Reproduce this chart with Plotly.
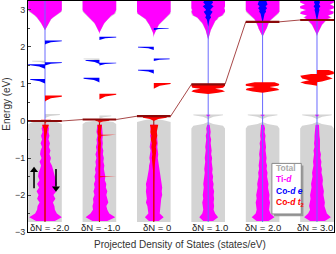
import plotly.graph_objects as go

# ---------------- data ----------------
dN_labels = ["δN = -2.0", "δN = -1.0", "δN = 0", "δN = 1.0", "δN = 2.0", "δN = 3.0"]
E_fermi = [0.00, 0.04, 0.13, 0.99, 2.68, 2.73]   # eV

# Ti-d conduction band, energies (eV) and DOS (states/eV), up = left, dn = right
E_cond = [3.30, 3.20, 3.15, 3.10, 3.05, 3.00, 2.95, 2.90, 2.85, 2.80, 2.75,
          2.70, 2.65, 2.60, 2.55, 2.50, 2.45, 2.40, 2.35, 2.30, 2.25, 2.20]
ti_cond_up = [
    [1.7, 1.7, 1.7, 1.7, 1.7, 1.7, 1.5, 1.2, 1.0, 0.8, 0.65, 0.5, 0.4, 0.3, 0.2, 0.05, 0, 0, 0, 0, 0, 0],
    [1.7, 1.7, 1.7, 1.7, 1.7, 1.7, 1.6, 1.4, 1.2, 1.0, 0.8, 0.65, 0.5, 0.4, 0.3, 0.2, 0.1, 0.03, 0, 0, 0, 0],
    [1.7, 1.7, 1.7, 1.7, 1.7, 1.7, 1.7, 1.6, 1.3, 1.0, 0.8, 0.7, 0.55, 0.45, 0.35, 0.25, 0.15, 0.1, 0.05, 0, 0, 0],
    [1.7, 1.7, 1.7, 1.7, 1.7, 1.6, 1.7, 1.6, 1.5, 1.1, 0.9, 0.8, 0.6, 0.5, 0.4, 0.3, 0.25, 0.2, 0.15, 0.1, 0.05, 0],
    [1.7, 1.7, 1.7, 1.7, 1.7, 1.7, 1.6, 1.4, 1.2, 0.9, 0.8, 0.7, 0.6, 0.5, 0.45, 0.4, 0.3, 0.2, 0.1, 0.03, 0, 0],
    [1.7, 1.7, 1.2, 1.7, 1.7, 1.1, 1.6, 1.7, 1.0, 1.3, 1.0, 0.8, 0.6, 0.5, 0.4, 0.3, 0.2, 0.1, 0.05, 0, 0, 0],
]
ti_cond_dn = [
    [1.7, 1.7, 1.7, 1.7, 1.7, 1.7, 1.6, 1.3, 1.0, 0.8, 0.6, 0.5, 0.4, 0.3, 0.2, 0.05, 0, 0, 0, 0, 0, 0],
    [1.7, 1.7, 1.7, 1.7, 1.7, 1.7, 1.6, 1.5, 1.2, 1.0, 0.8, 0.6, 0.5, 0.4, 0.3, 0.2, 0.1, 0.03, 0, 0, 0, 0],
    [1.7, 1.7, 1.7, 1.7, 1.7, 1.7, 1.7, 1.6, 1.4, 1.2, 1.0, 0.9, 0.7, 0.5, 0.4, 0.3, 0.2, 0.1, 0.05, 0, 0, 0],
    [1.7, 1.7, 1.7, 1.7, 1.6, 1.7, 1.7, 1.5, 1.4, 1.0, 0.9, 0.7, 0.6, 0.5, 0.4, 0.3, 0.25, 0.2, 0.15, 0.1, 0.05, 0],
    [1.7, 1.7, 1.7, 1.7, 1.7, 1.7, 1.7, 1.5, 1.3, 1.0, 0.8, 0.7, 0.6, 0.55, 0.45, 0.4, 0.3, 0.2, 0.1, 0.03, 0, 0],
    [1.7, 1.7, 1.3, 1.7, 1.7, 1.2, 1.7, 1.6, 1.1, 1.4, 1.0, 0.8, 0.6, 0.5, 0.4, 0.3, 0.2, 0.1, 0.05, 0, 0, 0],
]
# Co-d e in the conduction band (panels 4-6 only)
co_e_cond = [
    None, None, None,
    [0.3, 0.5, 0.3, 0.55, 0.35, 0.2, 0.45, 0.3, 0.2, 0.3, 0.15, 0.1, 0.05, 0, 0, 0, 0, 0, 0, 0, 0, 0],
    [0.3, 0.4, 0.5, 0.3, 0.45, 0.3, 0.35, 0.2, 0.15, 0.1, 0.05, 0, 0, 0, 0, 0, 0, 0, 0, 0, 0, 0],
    [0.2, 0.3, 0.2, 0.35, 0.2, 0.25, 0.2, 0.15, 0.1, 0.05, 0, 0, 0, 0, 0, 0, 0, 0, 0, 0, 0, 0],
]

# Valence band
E_val = [-0.1, -0.2, -0.3, -0.4, -0.5, -0.6, -0.7, -0.8, -0.9, -1.0, -1.1, -1.2, -1.3, -1.4,
         -1.5, -1.6, -1.7, -1.8, -1.9, -2.0, -2.1, -2.2, -2.3, -2.4, -2.5, -2.6, -2.7]
ti_val_up = [
    [0.2, 0.35, 0.25, 0.4, 0.3, 0.45, 0.3, 0.45, 0.5, 0.35, 0.55, 0.4, 0.5, 0.65, 0.7, 0.55, 0.8, 0.6, 0.85, 0.65, 0.8, 0.55, 0.75, 0.8, 1.0, 1.6, 0.9],
    [0.2, 0.25, 0.3, 0.2, 0.3, 0.25, 0.35, 0.28, 0.4, 0.3, 0.4, 0.35, 0.45, 0.38, 0.5, 0.42, 0.55, 0.48, 0.6, 0.5, 0.65, 0.6, 0.7, 0.65, 0.9, 1.4, 0.7],
    [0.3, 0.35, 0.28, 0.38, 0.3, 0.35, 0.42, 0.33, 0.42, 0.45, 0.38, 0.48, 0.5, 0.55, 0.65, 0.7, 0.8, 0.75, 0.8, 0.75, 0.7, 0.8, 0.65, 0.6, 0.55, 0.9, 0.5],
    [0.1, 0.2, 0.15, 0.25, 0.2, 0.25, 0.3, 0.25, 0.3, 0.35, 0.3, 0.35, 0.4, 0.35, 0.4, 0.45, 0.5, 0.45, 0.5, 0.55, 0.5, 0.6, 0.55, 0.5, 0.6, 0.9, 0.5],
    [0.15, 0.2, 0.2, 0.25, 0.2, 0.3, 0.25, 0.3, 0.35, 0.3, 0.35, 0.4, 0.35, 0.45, 0.4, 0.5, 0.55, 0.5, 0.6, 0.65, 0.6, 0.7, 0.65, 0.6, 0.7, 1.1, 0.6],
    [0.15, 0.2, 0.2, 0.25, 0.25, 0.3, 0.25, 0.35, 0.3, 0.35, 0.4, 0.35, 0.45, 0.5, 0.45, 0.55, 0.6, 0.55, 0.65, 0.7, 0.65, 0.75, 0.8, 0.7, 0.9, 1.3, 0.7],
]
ti_val_dn = [
    [0.3, 0.4, 0.35, 0.45, 0.35, 0.5, 0.4, 0.55, 0.45, 0.6, 0.5, 0.7, 0.8, 0.9, 1.0, 1.15, 1.2, 0.95, 1.15, 0.85, 1.05, 0.8, 0.95, 1.0, 1.2, 1.7, 1.0],
    [0.25, 0.3, 0.28, 0.35, 0.3, 0.35, 0.3, 0.4, 0.35, 0.45, 0.4, 0.5, 0.45, 0.55, 0.6, 0.55, 0.7, 0.65, 0.8, 0.7, 0.8, 0.9, 0.7, 0.8, 1.0, 1.6, 0.8],
    [0.3, 0.3, 0.35, 0.3, 0.35, 0.4, 0.35, 0.4, 0.45, 0.4, 0.45, 0.5, 0.55, 0.6, 0.65, 0.75, 0.8, 0.85, 0.8, 0.85, 0.75, 0.7, 0.7, 0.65, 0.6, 1.0, 0.5],
    [0.15, 0.2, 0.25, 0.2, 0.3, 0.25, 0.3, 0.35, 0.3, 0.4, 0.35, 0.4, 0.45, 0.4, 0.5, 0.45, 0.55, 0.5, 0.6, 0.55, 0.6, 0.55, 0.6, 0.55, 0.7, 1.0, 0.5],
    [0.15, 0.25, 0.2, 0.3, 0.25, 0.3, 0.35, 0.3, 0.35, 0.4, 0.35, 0.45, 0.4, 0.5, 0.45, 0.55, 0.6, 0.55, 0.65, 0.7, 0.65, 0.75, 0.7, 0.65, 0.8, 1.2, 0.6],
    [0.2, 0.2, 0.25, 0.25, 0.3, 0.3, 0.35, 0.3, 0.4, 0.35, 0.45, 0.4, 0.5, 0.45, 0.55, 0.6, 0.55, 0.65, 0.7, 0.65, 0.75, 0.8, 0.75, 0.85, 1.0, 1.4, 0.8],
]
# Co-d t2 in the valence band (panels 1-3)
t2_val_up = [
    [0.3, 0.15, 0.1, 0.08, 0.06, 0.06, 0.05, 0.06, 0.05, 0.05, 0.06, 0.05, 0.05, 0.06, 0.05, 0.05, 0.06, 0.05, 0.05, 0.06, 0.05, 0.05, 0.06, 0.05, 0.05, 0.1, 0.05],
    [0.2, 0.15, 0.2, 0.12, 0.15, 0.1, 0.15, 0.1, 0.12, 0.1, 0.1, 0.12, 0.1, 0.1, 0.08, 0.06, 0.05, 0.05, 0.05, 0.05, 0.05, 0.05, 0.05, 0.05, 0.05, 0.08, 0.05],
    [0.4, 0.3, 0.35, 0.25, 0.3, 0.2, 0.25, 0.2, 0.15, 0.2, 0.15, 0.1, 0.08, 0.06, 0.05, 0.05, 0.05, 0.05, 0.05, 0.05, 0.05, 0.05, 0.05, 0.05, 0.05, 0.08, 0.05],
]
t2_val_dn = [
    [0.4, 0.25, 0.2, 0.12, 0.08, 0.06, 0.06, 0.05, 0.06, 0.05, 0.05, 0.06, 0.05, 0.05, 0.06, 0.05, 0.05, 0.06, 0.05, 0.05, 0.06, 0.05, 0.05, 0.06, 0.05, 0.1, 0.05],
    [0.25, 0.2, 0.15, 0.2, 0.12, 0.15, 0.1, 0.12, 0.1, 0.12, 0.1, 0.1, 0.08, 0.1, 0.08, 0.06, 0.05, 0.05, 0.05, 0.05, 0.05, 0.05, 0.05, 0.05, 0.05, 0.08, 0.05],
    [0.45, 0.35, 0.3, 0.35, 0.25, 0.3, 0.2, 0.25, 0.2, 0.15, 0.15, 0.1, 0.08, 0.06, 0.05, 0.05, 0.05, 0.05, 0.05, 0.05, 0.05, 0.05, 0.05, 0.05, 0.05, 0.08, 0.05],
]

# Total DOS in the valence band (saturated)
E_tot_val = [0.06, 0.02, -0.03, -0.08, -0.13, -0.2, -2.65, -2.73]
tot_val = [
    [0.0, 0.0, 1.2, 1.7, 1.7, 1.7, 1.7, 1.7],
    [0.0, 0.0, 1.4, 1.7, 1.7, 1.7, 1.7, 1.7],
    [0.0, 1.0, 1.7, 1.7, 1.7, 1.7, 1.7, 1.7],
    [0.0, 0.0, 0.0, 0.5, 1.5, 1.7, 1.7, 1.7],
    [0.0, 0.0, 0.0, 0.5, 1.5, 1.7, 1.7, 1.7],
    [0.0, 0.0, 0.0, 0.5, 1.5, 1.7, 1.7, 1.7],
]

# Co-d t2 bands of panels 4-6: energies and DOS per spin
t2_blk_E_up = [None, None, None,
               [0.98, 0.95, 0.90, 0.87, 0.84, 0.80, 0.76, 0.73],
               [1.05, 1.00, 0.95, 0.92, 0.88, 0.84, 0.80, 0.76],
               [1.27, 1.22, 1.15, 1.10, 1.05, 1.00, 0.98, 0.95]]
t2_blk_up = [None, None, None,
             [1.7, 1.7, 1.6, 0.8, 1.5, 1.7, 1.2, 0.0],
             [0.8, 1.7, 1.7, 0.8, 1.6, 1.7, 1.0, 0.0],
             [0.6, 1.7, 1.5, 0.8, 1.7, 1.2, 0.6, 0.0]]
t2_blk_E_dn = [None, None, None,
               [0.98, 0.95, 0.90, 0.87, 0.84, 0.80, 0.76, 0.73],
               [1.05, 1.00, 0.95, 0.92, 0.88, 0.84, 0.80, 0.76],
               [1.38, 1.33, 1.27, 1.22, 1.15, 1.10, 1.07, 1.05]]
t2_blk_dn = [None, None, None,
             [1.7, 1.7, 1.5, 0.7, 1.4, 1.7, 1.0, 0.0],
             [1.2, 1.7, 1.6, 0.7, 1.5, 1.7, 0.8, 0.0],
             [1.2, 1.7, 1.7, 0.9, 1.6, 1.0, 0.5, 0.0]]

# Sharp peaks: panel index, peak energy (eV), spin (-1 up / +1 down), height, tail depth (eV)
tot_peaks = [(0, 1.62, -1, 1.3, 0.06), (0, 0.18, 1, 1.5, 0.10), (1, 1.68, -1, 1.6, 0.06),
             (1, 0.14, 1, 1.2, 0.08), (3, 0.17, -1, 1.5, 0.12), (3, 0.17, 1, 1.5, 0.12),
             (4, 0.17, -1, 1.5, 0.12), (4, 0.17, 1, 1.5, 0.12), (5, 0.17, -1, 1.5, 0.12),
             (5, 0.17, 1, 1.5, 0.12)]
co_e_peaks = [(0, 2.17, 1, 1.7, 0.10), (0, 1.58, 1, 1.7, 0.08), (0, 1.53, -1, 1.7, 0.12),
              (0, 1.13, -1, 1.5, 0.12), (1, 2.27, 1, 1.7, 0.08), (1, 1.64, -1, 1.4, 0.10),
              (1, 1.57, 1, 1.7, 0.07), (1, 1.16, -1, 1.6, 0.12), (2, 2.51, 1, 1.5, 0.06),
              (2, 2.00, -1, 1.6, 0.08), (2, 1.68, 1, 1.6, 0.06), (2, 1.38, -1, 1.6, 0.10)]
co_t2_peaks = [(0, 0.68, 1, 1.7, 0.15), (1, 0.73, 1, 1.7, 0.15), (2, 1.02, 1, 1.7, 0.15),
               (0, 0.03, -1, 0.4, 0.08), (0, 0.03, 1, 0.6, 0.10), (1, 0.02, 1, 1.0, 0.07),
               (1, 0.02, -1, 0.4, 0.07), (2, 0.10, -1, 1.1, 0.10), (2, 0.10, 1, 1.3, 0.10),
               (1, -0.38, 1, 1.7, 0.02), (1, -1.50, 1, 1.7, 0.02)]
ti_small_peaks = [(3, 0.16, -1, 0.2, 0.05), (3, 0.16, 1, 0.2, 0.05), (4, 0.16, -1, 0.2, 0.05),
                  (4, 0.16, 1, 0.2, 0.05), (5, 0.16, -1, 0.2, 0.05), (5, 0.16, 1, 0.2, 0.05)]

# ---------------- geometry / style ----------------
SPACING = 5.5
HALF = 1.7
N = len(dN_labels)
centers = [i * SPACING for i in range(N)]
E_BOTTOM = -2.73
C_TOT, C_TI, C_E, C_T2 = "#d4d4d4", "#ff00ff", "#0000ff", "#ff0000"


def side_poly(xc, E, w, s):
    xs = [xc + s * v for v in w] + [xc] * len(E)
    ys = list(E) + list(reversed(E))
    return xs, ys


def peak_poly(xc, e0, s, h, d):
    xs = [xc, xc + s * h, xc + s * h, xc + s * 0.35 * h, xc + s * 0.08 * h, xc]
    ys = [e0 + 0.006, e0 + 0.006, e0 - 0.15 * d, e0 - 0.45 * d, e0 - 0.85 * d, e0 - d]
    return xs, ys


class Layer:
    def __init__(self):
        self.x, self.y = [], []

    def add(self, xs, ys):
        self.x += list(xs) + [None]
        self.y += list(ys) + [None]


gray, mag, blue, red = Layer(), Layer(), Layer(), Layer()

for i, xc in enumerate(centers):
    for s in (-1, 1):
        gray.add(*side_poly(xc, E_tot_val, tot_val[i], s))
        gray.add(*side_poly(xc, E_cond, [min(HALF, v * 1.08) for v in (ti_cond_up[i] if s < 0 else ti_cond_dn[i])], s))
        mag.add(*side_poly(xc, E_cond, ti_cond_up[i] if s < 0 else ti_cond_dn[i], s))
        mag.add(*side_poly(xc, E_val, ti_val_up[i] if s < 0 else ti_val_dn[i], s))
        if co_e_cond[i] is not None:
            blue.add(*side_poly(xc, E_cond, co_e_cond[i], s))
        if i < 3:
            red.add(*side_poly(xc, E_val, t2_val_up[i] if s < 0 else t2_val_dn[i], s))
        if t2_blk_up[i] is not None:
            if s < 0:
                red.add(*side_poly(xc, t2_blk_E_up[i], t2_blk_up[i], s))
            else:
                red.add(*side_poly(xc, t2_blk_E_dn[i], t2_blk_dn[i], s))

for lay, peaks in ((gray, tot_peaks), (blue, co_e_peaks), (red, co_t2_peaks), (mag, ti_small_peaks)):
    for (p, e0, s, h, d) in peaks:
        lay.add(*peak_poly(centers[p], e0, s, h, d))

fig = go.Figure()


def add_fill(lay, color):
    fig.add_trace(go.Scatter(x=lay.x, y=lay.y, mode="lines", fill="toself", fillcolor=color,
                             line=dict(width=0, color=color), hoverinfo="skip", showlegend=False))


add_fill(gray, C_TOT)
add_fill(mag, C_TI)

# zero-DOS centre lines
lx, ly = [], []
for i in (0, 3, 4, 5):
    lx += [centers[i], centers[i], None]
    ly += [E_fermi[0] if i == 0 else E_BOTTOM, 3.3, None]
fig.add_trace(go.Scatter(x=lx, y=ly, mode="lines", line=dict(color="#6a6aff", width=1),
                         hoverinfo="skip", showlegend=False))
rx, ry = [], []
for i in (0, 1, 2):
    rx += [centers[i], centers[i], None]
    ry += [E_fermi[i], E_BOTTOM, None]
fig.add_trace(go.Scatter(x=rx, y=ry, mode="lines", line=dict(color="#a00000", width=1),
                         hoverinfo="skip", showlegend=False))

add_fill(blue, C_E)
add_fill(red, C_T2)

# Fermi level: thin connectors + thick segments
fx, fy = [], []
for i, xc in enumerate(centers):
    fx += [xc - HALF - (0.1 if i == 0 else 0), xc + HALF + (0.1 if i == N - 1 else 0)]
    fy += [E_fermi[i], E_fermi[i]]
fig.add_trace(go.Scatter(x=fx, y=fy, mode="lines", line=dict(color="#a84848", width=1),
                         hoverinfo="skip", showlegend=False))
tx, ty = [], []
for i, xc in enumerate(centers):
    tx += [xc - HALF - (0.1 if i == 0 else 0), xc + HALF + (0.1 if i == N - 1 else 0), None]
    ty += [E_fermi[i], E_fermi[i], None]
fig.add_trace(go.Scatter(x=tx, y=ty, mode="lines", line=dict(color="#8b0a0a", width=2.2),
                         hoverinfo="skip", showlegend=False))

# spin arrows (up on the left, down on the right of panel 1)
fig.add_trace(go.Scatter(x=[-1.11, -1.11], y=[-1.82, -1.36], mode="lines",
                         line=dict(color="black", width=1.6), hoverinfo="skip", showlegend=False))
fig.add_trace(go.Scatter(x=[1.11, 1.11], y=[-1.30, -1.78], mode="lines",
                         line=dict(color="black", width=1.6), hoverinfo="skip", showlegend=False))
fig.add_trace(go.Scatter(x=[-1.11, 1.11], y=[-1.33, -1.82], mode="markers",
                         marker=dict(symbol=["triangle-up", "triangle-down"], size=7, color="black",
                                     line=dict(width=0)),
                         hoverinfo="skip", showlegend=False))

FONT = "Liberation Sans, Arial, sans-serif"
annotations = []
label_dx = [0.5, 0.1, 0.37, 0.18, 0.04, -0.2]
for i, t in enumerate(dN_labels):
    annotations.append(dict(x=centers[i] + label_dx[i], y=-2.87, xref="x", yref="y", text=t,
                            xanchor="center", yanchor="middle",
                            showarrow=False, font=dict(family=FONT, size=9.5, color="#222")))
# axis titles
annotations.append(dict(x=0.497, y=-0.052, xref="paper", yref="paper", text="Projected Density of States (states/eV)",
                        xanchor="center", yanchor="middle",
                        showarrow=False, font=dict(family=FONT, size=10, color="#333")))
annotations.append(dict(x=-0.069, y=0.555, xref="paper", yref="paper", text="Energy (eV)", textangle=-90,
                        xanchor="center", yanchor="middle",
                        showarrow=False, font=dict(family=FONT, size=10, color="#333")))
# legend
leg_items = [("Total", "#aaaaaa"), ("Ti-<i>d</i>", C_TI), ("Co-<i>d</i> <i>e</i>", C_E),
             ("Co-<i>d</i> <i>t</i><sub>2</sub>", C_T2)]
leg_y = [0.278, 0.230, 0.178, 0.126]
for (t, c), yy in zip(leg_items, leg_y):
    annotations.append(dict(x=0.805, y=yy, xref="paper", yref="paper", text="<b>" + t + "</b>",
                            xanchor="left", yanchor="middle",
                            showarrow=False, font=dict(family=FONT, size=8.5, color=c)))
shapes = [
    dict(type="rect", xref="paper", yref="paper", x0=0.804, x1=0.900, y0=0.068, y1=0.288,
         fillcolor="#9a9a9a", line=dict(width=0), layer="above"),
    dict(type="rect", xref="paper", yref="paper", x0=0.797, x1=0.893, y0=0.078, y1=0.297,
         fillcolor="white", line=dict(color="#888", width=1), layer="above"),
]

fig.update_layout(
    width=336, height=254, margin=dict(l=28, r=2, t=1, b=22, autoexpand=False),
    paper_bgcolor="white", plot_bgcolor="white", showlegend=False,
    font=dict(family=FONT),
    xaxis=dict(range=[-HALF - 0.02, centers[-1] + HALF + 0.02], showticklabels=False, showgrid=False,
               zeroline=False, showline=True, mirror=True, linecolor="black", linewidth=1, ticks="",
               automargin=False),
    yaxis=dict(range=[-3.0, 3.243], dtick=1, tick0=0, showgrid=False, zeroline=False, showline=True,
               mirror=True, linecolor="black", linewidth=1, ticks="inside", ticklen=3, tickcolor="#444",
               tickfont=dict(family=FONT, size=9, color="#333"), automargin=False,
               minor=dict(dtick=0.5, ticks="inside", ticklen=2, tickcolor="#444")),
    annotations=annotations, shapes=shapes,
)
fig.write_html("out.html", config={"displayModeBar": False, "staticPlot": True},
               post_script="document.body.style.margin='0px';document.body.style.overflow='hidden';")
